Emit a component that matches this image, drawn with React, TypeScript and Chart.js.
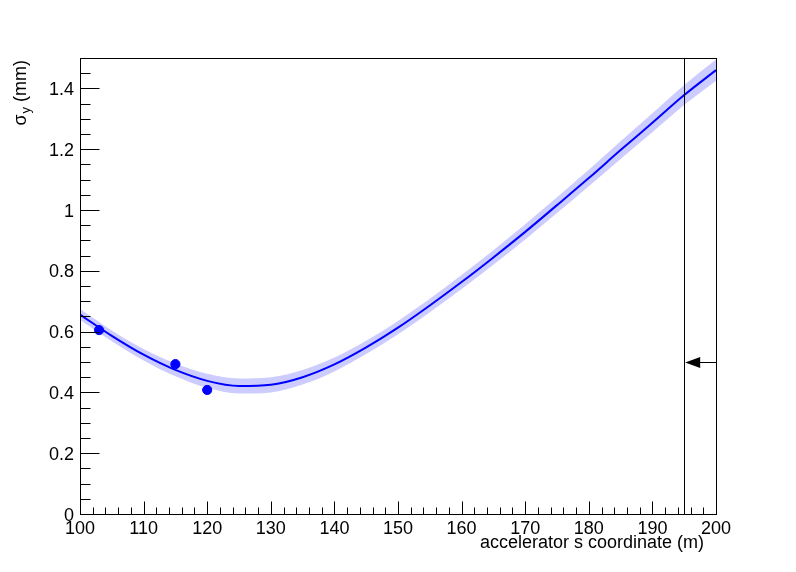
import React, { useEffect, useRef } from "react";
import { Chart, registerables } from "chart.js";

Chart.register(...registerables);

// Fitted beam-size curve (s in m, sigma_y in mm)
const fitS = [100, 105, 110, 115, 120, 125, 130, 135, 140, 145, 150, 155, 160, 165, 170, 175, 180, 185, 190, 195, 200];
const fitSigma = [0.656, 0.586, 0.524, 0.474, 0.438, 0.421, 0.425, 0.45, 0.492, 0.548, 0.613, 0.686, 0.763, 0.844, 0.928, 1.016, 1.105, 1.197, 1.287, 1.378, 1.46];
const bandHalf = [0.018, 0.018, 0.019, 0.021, 0.023, 0.025, 0.025, 0.024, 0.023, 0.022, 0.022, 0.022, 0.023, 0.024, 0.025, 0.026, 0.027, 0.029, 0.031, 0.033, 0.035];

// Measured points
const measS = [103, 115, 120];
const measSigma = [0.605, 0.493, 0.408];
const measErr = [0.01, 0.007, 0.008];

// Axis ticks
const xMajorTicks = [100, 110, 120, 130, 140, 150, 160, 170, 180, 190, 200];
const xMinorStep = 2;
const yMajorTicks = [0, 0.2, 0.4, 0.6, 0.8, 1, 1.2, 1.4];
const yMinorStep = 0.05;

// Marker line and arrow
const markerS = 195;
const arrowFromS = 200;
const arrowToS = 195;
const arrowSigma = 0.5;

const X_MIN = 100, X_MAX = 200, Y_MIN = 0, Y_MAX = 1.5;
const FONT = '"Liberation Sans", Arial, Helvetica, sans-serif';

const rootPlugin = {
  id: "rootStyle",
  afterDatasetsDraw(chart: any) {
    const ctx = chart.ctx as CanvasRenderingContext2D;
    const xs = chart.scales.x;
    const ys = chart.scales.y;
    const a = chart.chartArea;
    ctx.save();

    // error bars on measured points
    ctx.strokeStyle = "#0000ff";
    ctx.lineWidth = 2;
    measS.forEach((s, i) => {
      const px = xs.getPixelForValue(s);
      ctx.beginPath();
      ctx.moveTo(px, ys.getPixelForValue(measSigma[i] - measErr[i]));
      ctx.lineTo(px, ys.getPixelForValue(measSigma[i] + measErr[i]));
      ctx.stroke();
    });

    // vertical marker
    ctx.strokeStyle = "#000";
    ctx.lineWidth = 1;
    const mx = Math.round(xs.getPixelForValue(markerS)) + 0.5;
    ctx.beginPath();
    ctx.moveTo(mx, a.top);
    ctx.lineTo(mx, a.bottom);
    ctx.stroke();

    // arrow
    const ay = Math.round(ys.getPixelForValue(arrowSigma)) + 0.5;
    const ax0 = xs.getPixelForValue(arrowFromS);
    const ax1 = xs.getPixelForValue(arrowToS);
    ctx.beginPath();
    ctx.moveTo(ax0, ay);
    ctx.lineTo(ax1 + 14, ay);
    ctx.stroke();
    ctx.fillStyle = "#000";
    ctx.beginPath();
    ctx.moveTo(ax1 + 1, ay);
    ctx.lineTo(ax1 + 16, ay - 5.5);
    ctx.lineTo(ax1 + 16, ay + 5.5);
    ctx.closePath();
    ctx.fill();

    // frame
    ctx.strokeStyle = "#000";
    ctx.lineWidth = 1;
    ctx.strokeRect(Math.round(a.left) + 0.5, Math.round(a.top) + 0.5, Math.round(a.right - a.left), Math.round(a.bottom - a.top));

    // x ticks (inward)
    const bottom = Math.round(a.bottom) + 0.5;
    ctx.beginPath();
    for (let v = X_MIN; v <= X_MAX + 1e-9; v += xMinorStep) {
      const isMajor = xMajorTicks.some((t) => Math.abs(t - v) < 1e-6);
      const px = Math.round(xs.getPixelForValue(v)) + 0.5;
      ctx.moveTo(px, bottom);
      ctx.lineTo(px, bottom - (isMajor ? 13 : 7));
    }
    // y ticks (inward)
    const left = Math.round(a.left) + 0.5;
    for (let v = Y_MIN; v <= Y_MAX + 1e-9; v += yMinorStep) {
      const isMajor = yMajorTicks.some((t) => Math.abs(t - v) < 1e-6);
      const py = Math.round(ys.getPixelForValue(v)) + 0.5;
      ctx.moveTo(left, py);
      ctx.lineTo(left + (isMajor ? 19 : 10), py);
    }
    ctx.stroke();

    // tick labels
    ctx.fillStyle = "#000";
    ctx.font = `18px ${FONT}`;
    ctx.textAlign = "center";
    ctx.textBaseline = "alphabetic";
    xMajorTicks.forEach((t) => {
      ctx.fillText(String(t), xs.getPixelForValue(t), a.bottom + 19.5);
    });
    ctx.textAlign = "right";
    yMajorTicks.forEach((t) => {
      ctx.fillText(String(+t.toFixed(2)), a.left - 6, ys.getPixelForValue(t) + 6.5);
    });

    // x title
    ctx.textAlign = "right";
    ctx.fillText("accelerator s coordinate (m)", a.right - 12, 548);

    // y title: sigma_y (mm), rotated
    ctx.save();
    ctx.translate(26, 60);
    ctx.rotate(-Math.PI / 2);
    ctx.textAlign = "left";
    const big = `18px ${FONT}`;
    const small = `13px ${FONT}`;
    ctx.font = big;
    const wSig = ctx.measureText("σ").width;
    const wRest = ctx.measureText(" (mm)").width;
    ctx.font = small;
    const wSub = ctx.measureText("y").width;
    const total = wSig + wSub + wRest + 1;
    let x0 = -total;
    ctx.font = big;
    ctx.fillText("σ", x0, 0);
    x0 += wSig + 1;
    ctx.font = small;
    ctx.fillText("y", x0, 4);
    x0 += wSub;
    ctx.font = big;
    ctx.fillText(" (mm)", x0, 0);
    ctx.restore();

    ctx.restore();
  },
};

export default function App() {
  const ref = useRef<HTMLCanvasElement | null>(null);

  useEffect(() => {
    if (!ref.current) return;
    const upper = fitS.map((s, i) => ({ x: s, y: fitSigma[i] + bandHalf[i] }));
    const lower = fitS.map((s, i) => ({ x: s, y: fitSigma[i] - bandHalf[i] }));
    const chart = new Chart(ref.current, {
      type: "line",
      data: {
        datasets: [
          {
            label: "points",
            type: "scatter",
            data: measS.map((s, i) => ({ x: s, y: measSigma[i] })),
            backgroundColor: "#0000ff",
            borderColor: "#0000ff",
            pointRadius: 4.6,
            pointHoverRadius: 4.6,
            order: 0,
          } as any,
          {
            label: "fit",
            data: fitS.map((s, i) => ({ x: s, y: fitSigma[i] })),
            borderColor: "#0000ff",
            borderWidth: 2,
            pointRadius: 0,
            fill: false,
            cubicInterpolationMode: "monotone",
            order: 1,
          },
          {
            label: "band-upper",
            data: upper,
            borderWidth: 0,
            borderColor: "rgba(0,0,0,0)",
            backgroundColor: "rgba(0,0,255,0.2)",
            pointRadius: 0,
            fill: "+1",
            cubicInterpolationMode: "monotone",
            order: 2,
          },
          {
            label: "band-lower",
            data: lower,
            borderWidth: 0,
            borderColor: "rgba(0,0,0,0)",
            pointRadius: 0,
            fill: false,
            cubicInterpolationMode: "monotone",
            order: 3,
          },
        ],
      },
      options: {
        animation: false,
        responsive: false,
        devicePixelRatio: 1,
        layout: { padding: { left: 80, right: 80, top: 58, bottom: 58 } },
        plugins: { legend: { display: false }, tooltip: { enabled: false } },
        events: [],
        scales: {
          x: { type: "linear", min: X_MIN, max: X_MAX, display: false },
          y: { type: "linear", min: Y_MIN, max: Y_MAX, display: false },
        },
      },
      plugins: [rootPlugin],
    });
    return () => chart.destroy();
  }, []);

  return (
    <div style={{ position: "fixed", left: 0, top: 0, width: 796, height: 572, background: "#fff" }}>
      <canvas ref={ref} width={796} height={572} style={{ width: 796, height: 572 }} />
    </div>
  );
}
